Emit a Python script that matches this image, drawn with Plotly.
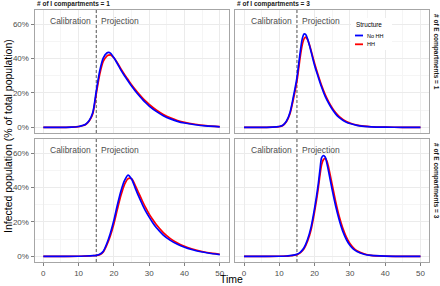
import plotly.graph_objects as go

W, H = 440, 286

# ---------------- data ----------------
# Panel: # of E compartments = 1, # of I compartments = 1
time_e1_i1 = [0, 5, 8, 10, 11, 12, 13, 14, 15, 16, 17, 18, 18.5, 19, 20, 21, 22, 23, 24, 25,
              26, 27, 28, 29, 30, 32, 34, 36, 38, 40, 43, 46, 50]
nohh_e1_i1 = [0, 0, 0.1, 0.5, 1.0, 1.8, 4.0, 8.5, 21, 33, 40.5, 43.3, 43.6, 43.2, 40.5, 37, 33.3, 30, 27, 24,
              21.3, 18.8, 16.5, 14.3, 12.4, 9.3, 6.8, 4.9, 3.5, 2.5, 1.5, 0.8, 0.3]
hh_e1_i1 = [0, 0, 0.1, 0.45, 0.9, 1.7, 3.7, 7.8, 19.5, 31, 38.5, 41.5, 42.0, 42.2, 40.5, 37.5, 34, 30.8, 27.8, 24.8,
            22.1, 19.6, 17.3, 15.2, 13.3, 10.1, 7.5, 5.5, 4.0, 2.9, 1.8, 1.0, 0.4]

# Panel: E = 1, I = 3
time_e1_i3 = [0, 5, 8, 10, 11, 12, 13, 14, 15, 15.5, 16, 16.5, 17, 17.5, 18, 18.5, 19, 20, 21, 22,
              23, 24, 25, 26, 27, 28, 29, 30, 32, 34, 36, 40, 45, 50]
nohh_e1_i3 = [0, 0, 0.1, 0.5, 1.2, 3.5, 8.5, 18, 29, 37, 45, 51.5, 54.3, 54, 51.5, 48, 44, 36, 29.5, 23.3,
              18, 14, 10.5, 7.7, 5.6, 4.1, 3, 2.2, 1.1, 0.6, 0.3, 0.1, 0, 0]
hh_e1_i3 = [0, 0, 0.1, 0.45, 1.1, 3.2, 7.8, 16.5, 27, 34.5, 42, 48, 51.5, 52.5, 51, 48.3, 44.8, 37.2, 30.5, 24.3,
            19, 14.8, 11.3, 8.4, 6.2, 4.6, 3.4, 2.5, 1.3, 0.7, 0.35, 0.1, 0, 0]

# Panel: E = 3, I = 1
time_e3_i1 = [0, 5, 10, 12, 14, 15, 16, 17, 18, 19, 20, 21, 22, 23, 24, 25, 26, 27, 28, 29,
              30, 31, 32, 34, 36, 38, 40, 42, 45, 48, 50]
nohh_e3_i1 = [0, 0, 0.05, 0.2, 0.4, 0.6, 1.2, 3.0, 7.5, 13.5, 21, 30, 38, 44, 47.3, 45, 40, 35, 30.5, 26.3,
              22.8, 19.6, 16.8, 12.4, 9.3, 7.0, 5.3, 4.0, 2.5, 1.5, 1.0]
hh_e3_i1 = [0, 0, 0.05, 0.15, 0.35, 0.5, 1.0, 2.6, 6.6, 12, 19, 27.5, 35.5, 41.8, 45.2, 45.2, 41.5, 37, 32.5, 28.3,
            24.6, 21.4, 18.5, 13.8, 10.3, 7.7, 5.8, 4.4, 2.8, 1.7, 1.2]

# Panel: E = 3, I = 3
time_e3_i3 = [0, 5, 10, 12, 13, 14, 15, 16, 17, 18, 19, 20, 21, 21.5, 22, 22.5, 23, 23.5, 24, 25,
              26, 27, 28, 29, 30, 31, 32, 34, 36, 40, 45, 50]
nohh_e3_i3 = [0, 0, 0.05, 0.2, 0.4, 0.7, 1.2, 2.5, 5, 9.8, 17, 28, 41.5, 50, 57.5, 58.6, 57.8, 54, 49, 38.5,
              29, 21, 14.5, 9.8, 6.4, 4.2, 2.8, 1.2, 0.5, 0.1, 0, 0]
hh_e3_i3 = [0, 0, 0.05, 0.15, 0.35, 0.6, 1.0, 2.2, 4.4, 8.8, 15.5, 26, 39, 47, 53.5, 56.3, 57, 55.5, 51.5, 41.5,
            31.5, 23, 16.3, 11.2, 7.5, 5, 3.3, 1.5, 0.6, 0.15, 0, 0]

series_names = ["No HH", "HH"]
series_colors = {"No HH": "#0000ff", "HH": "#ff0000"}
i_labels = ["# of I compartments = 1", "# of I compartments = 3"]
e_labels = ["# of E compartments = 1", "# of E compartments = 3"]
calibration_end = 15
x_ticks = [0, 10, 20, 30, 40, 50]
y_ticks = [0, 20, 40, 60]

panels = [
    ("", time_e1_i1, nohh_e1_i1, hh_e1_i1),
    ("2", time_e1_i3, nohh_e1_i3, hh_e1_i3),
    ("3", time_e3_i1, nohh_e3_i1, hh_e3_i1),
    ("4", time_e3_i3, nohh_e3_i3, hh_e3_i3),
]

FONT = "Liberation Sans, Arial, Helvetica, sans-serif"

def px_x(p):
    return p / W

def px_y(p):
    return 1 - p / H

# panel geometry in pixels
col_x = [(34.5, 228.6), (235.2, 429.3)]
row_y = [(10, 133), (139, 262)]
Y_RANGE = [-3.3, 68.3]

fig = go.Figure()

for idx, (suf, t, nohh, hh) in enumerate(panels):
    xa = "x" + suf
    ya = "y" + suf
    # calibration / projection divider (vertical reference line at the end of calibration)
    fig.add_trace(go.Scatter(
        x=[calibration_end, calibration_end], y=Y_RANGE, mode="lines", xaxis=xa, yaxis=ya,
        line=dict(color="#555555", width=1, dash="3px,2px"), showlegend=False, hoverinfo="skip",
    ))
    for name, vals in (("HH", hh), ("No HH", nohh)):
        fig.add_trace(go.Scatter(
            x=t, y=vals, mode="lines", name=name, xaxis=xa, yaxis=ya,
            line=dict(color=series_colors[name], width=1.7, shape="spline", smoothing=0.8),
            showlegend=False, hoverinfo="skip",
        ))

layout = dict(
    width=W, height=H,
    margin=dict(l=0, r=0, t=0, b=0),
    paper_bgcolor="white", plot_bgcolor="white",
    font=dict(family=FONT, color="#4d4d4d"),
    showlegend=False,
)

shapes = []
annotations = []

for idx, (suf, t, nohh, hh) in enumerate(panels):
    r, c = divmod(idx, 2)
    x0, x1 = col_x[c]
    y0, y1 = row_y[r]
    xname = "xaxis" + suf
    yname = "yaxis" + suf
    xa = "x" + suf
    ya = "y" + suf
    bottom = r == 1
    left = c == 0
    layout[xname] = dict(
        domain=[px_x(x0), px_x(x1)], anchor=ya, range=[-2.5, 52.5],
        tickmode="array", tickvals=x_ticks, ticktext=[str(v) for v in x_ticks],
        showgrid=True, gridcolor="#ebebeb", gridwidth=1,
        minor=dict(tickmode="linear", tick0=0, dtick=5, showgrid=True,
                   gridcolor="#f5f5f5", gridwidth=0.6),
        zeroline=False, showline=True, mirror=True, linecolor="#a6a6a6", linewidth=1,
        ticks="outside" if bottom else "", ticklen=3, tickwidth=1, tickcolor="#808080",
        showticklabels=bottom, tickfont=dict(size=8, color="#4d4d4d", family=FONT),
        fixedrange=True,
    )
    layout[yname] = dict(
        domain=[px_y(y1), px_y(y0)], anchor=xa, range=Y_RANGE,
        tickmode="array", tickvals=y_ticks, ticktext=[f"{v}%" for v in y_ticks],
        showgrid=True, gridcolor="#ebebeb", gridwidth=1,
        minor=dict(tickmode="linear", tick0=0, dtick=10, showgrid=True,
                   gridcolor="#f5f5f5", gridwidth=0.6),
        zeroline=False, showline=True, mirror=True, linecolor="#a6a6a6", linewidth=1,
        ticks="outside" if left else "", ticklen=3, tickwidth=1, tickcolor="#808080",
        showticklabels=left, tickfont=dict(size=8, color="#4d4d4d", family=FONT),
        fixedrange=True,
    )
    annotations.append(dict(xref=xa, yref=ya, x=calibration_end, y=61.8, text="Calibration",
                            xanchor="right", yanchor="middle", xshift=-3, showarrow=False,
                            font=dict(size=8.5, color="#4d4d4d", family=FONT)))
    annotations.append(dict(xref=xa, yref=ya, x=calibration_end, y=61.8, text="Projection",
                            xanchor="left", yanchor="middle", xshift=3, showarrow=False,
                            font=dict(size=8.5, color="#4d4d4d", family=FONT)))

# strip labels (top)
for c in range(2):
    annotations.append(dict(xref="paper", yref="paper", x=px_x(col_x[c][0]), y=px_y(4),
                            text=f"<b>{i_labels[c]}</b>", xanchor="left", yanchor="middle",
                            showarrow=False, font=dict(size=6.5, color="#1a1a1a", family=FONT)))
# strip labels (right)
for r in range(2):
    annotations.append(dict(xref="paper", yref="paper", x=px_x(436), y=px_y(row_y[r][0] + 2),
                            text=f"<b>{e_labels[r]}</b>", xanchor="center", yanchor="top",
                            textangle=90, showarrow=False,
                            font=dict(size=6.5, color="#1a1a1a", family=FONT)))

# axis titles
annotations.append(dict(xref="paper", yref="paper", x=px_x(8), y=px_y(136),
                        text="Infected population (% of total population)", textangle=-90,
                        xanchor="center", yanchor="middle", showarrow=False,
                        font=dict(size=10.5, color="black", family=FONT)))
annotations.append(dict(xref="paper", yref="paper", x=px_x(232), y=0,
                        text="Time", xanchor="center", yanchor="bottom", borderpad=0,
                        showarrow=False, font=dict(size=10.5, color="black", family=FONT)))

# legend (drawn inside the top-right panel)
shapes.append(dict(type="rect", xref="paper", yref="paper", x0=px_x(351), x1=px_x(392),
                   y0=px_y(50), y1=px_y(18), fillcolor="white", line=dict(width=0), layer="above"))
annotations.append(dict(xref="paper", yref="paper", x=px_x(354), y=px_y(24.5), text="Structure",
                        xanchor="left", yanchor="middle", showarrow=False,
                        font=dict(size=6.4, color="black", family=FONT)))
for name, py in (("No HH", 35.5), ("HH", 44.3)):
    shapes.append(dict(type="line", xref="paper", yref="paper", x0=px_x(355), x1=px_x(363),
                       y0=px_y(py), y1=px_y(py), layer="above",
                       line=dict(color=series_colors[name], width=1.8)))
    annotations.append(dict(xref="paper", yref="paper", x=px_x(365), y=px_y(py), text=name,
                            xanchor="left", yanchor="middle", showarrow=False,
                            font=dict(size=5.5, color="black", family=FONT)))

layout["shapes"] = shapes
layout["annotations"] = annotations
fig.update_layout(**layout)

fig.write_html("out.html", config={"displayModeBar": False})

# remove the browser's default page margin so the 440x286 figure fills the window exactly
with open("out.html", "r", encoding="utf-8") as f:
    html = f.read()
html = html.replace("<head>", "<head><style>html,body{margin:0;padding:0;overflow:hidden;}</style>", 1)
with open("out.html", "w", encoding="utf-8") as f:
    f.write(html)
